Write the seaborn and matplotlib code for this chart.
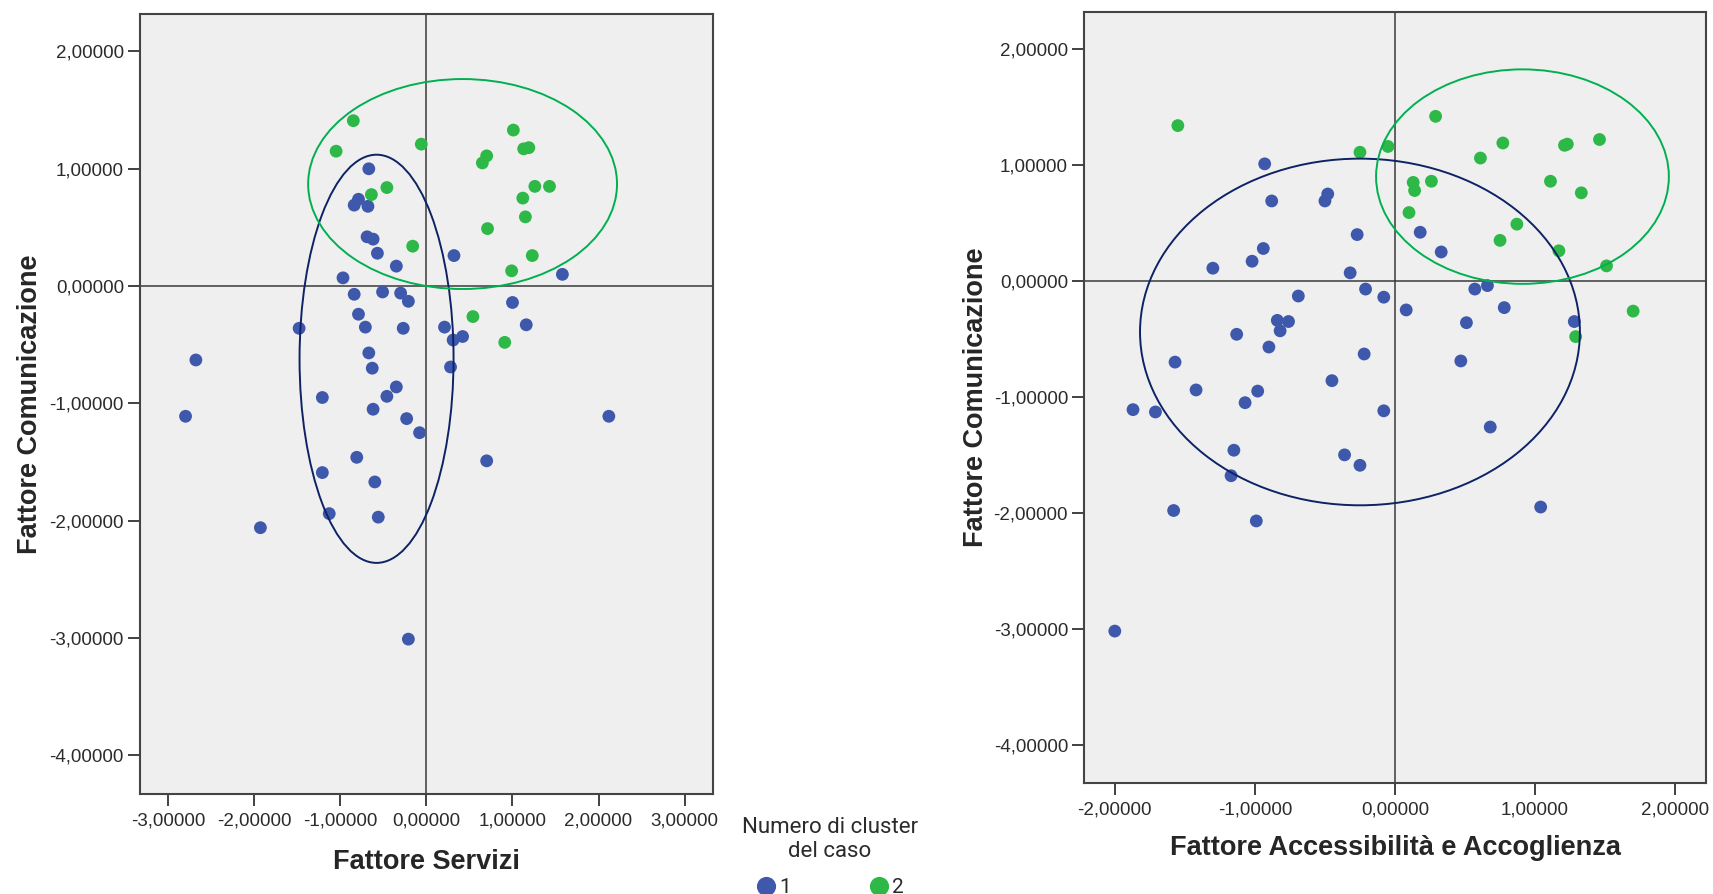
import numpy as np
import pandas as pd
import seaborn as sns
import matplotlib.pyplot as plt
import matplotlib.ticker as ticker
from matplotlib.patches import Ellipse

# cluster scatter (SPSS output) - Fattore Comunicazione vs two other factors
# left panel: Fattore Servizi
serv_x_c1 = [-0.67, -0.79, -0.84, -0.68, -0.69, -0.62, -0.57, 0.32, -0.35, -0.97, 1.58,
             -0.84, -0.51, -0.30, -0.21, 1.00, -0.79, -1.48, -0.71, -0.27, 0.21, 1.16,
             0.42, 0.31, -2.68, -0.67, -0.63, 0.28, -0.35, -1.21, -0.46, -2.80, -0.62,
             -0.23, 2.12, -0.08, -0.81, 0.70, -1.21, -0.60, -1.13, -0.56, -1.93, -0.21]
serv_y_c1 = [1.00, 0.74, 0.69, 0.68, 0.42, 0.40, 0.28, 0.26, 0.17, 0.07, 0.10,
             -0.07, -0.05, -0.06, -0.13, -0.14, -0.24, -0.36, -0.35, -0.36, -0.35, -0.33,
             -0.43, -0.46, -0.63, -0.57, -0.70, -0.69, -0.86, -0.95, -0.94, -1.11, -1.05,
             -1.13, -1.11, -1.25, -1.46, -1.49, -1.59, -1.67, -1.94, -1.97, -2.06, -3.01]
serv_x_c2 = [-0.85, 1.01, -1.05, -0.06, 1.13, 1.19, 0.70, 0.65, -0.46, -0.64,
             1.26, 1.43, 1.12, 1.15, 0.71, -0.16, 1.23, 0.99, 0.54, 0.91]
serv_y_c2 = [1.41, 1.33, 1.15, 1.21, 1.17, 1.18, 1.11, 1.05, 0.84, 0.78,
             0.85, 0.85, 0.75, 0.59, 0.49, 0.34, 0.26, 0.13, -0.26, -0.48]

# right panel: Fattore Accessibilita e Accoglienza
acc_x_c1 = [-0.93, -0.48, -0.50, -0.88, -0.27, 0.18, 0.33, -0.94, -1.02, -1.30, -0.32,
            -0.21, -0.08, -0.69, 0.57, 0.66, 0.08, 0.78, -0.84, -0.76, -0.82, 0.51,
            1.28, -1.13, -0.90, -0.22, 0.47, -1.57, -0.45, -1.42, -0.98, -1.87, -1.71,
            -1.07, -0.08, 0.68, -1.15, -0.36, -0.25, -1.17, -1.58, -0.99, 1.04, -2.00]
acc_y_c1 = [1.01, 0.75, 0.69, 0.69, 0.40, 0.42, 0.25, 0.28, 0.17, 0.11, 0.07,
            -0.07, -0.14, -0.13, -0.07, -0.04, -0.25, -0.23, -0.34, -0.35, -0.43, -0.36,
            -0.35, -0.46, -0.57, -0.63, -0.69, -0.70, -0.86, -0.94, -0.95, -1.11, -1.13,
            -1.05, -1.12, -1.26, -1.46, -1.50, -1.59, -1.68, -1.98, -2.07, -1.95, -3.02]
acc_x_c2 = [-1.55, 0.29, -0.25, -0.05, 0.77, 1.21, 1.23, 1.46, 0.61, 0.13,
            0.14, 0.26, 1.11, 1.33, 0.10, 0.87, 0.75, 1.17, 1.51, 1.70, 1.29]
acc_y_c2 = [1.34, 1.42, 1.11, 1.16, 1.19, 1.17, 1.18, 1.22, 1.06, 0.85,
            0.78, 0.86, 0.86, 0.76, 0.59, 0.49, 0.35, 0.26, 0.13, -0.26, -0.48]

# hand-drawn cluster ellipses: (cx, cy, width, height)
ell_serv_c1 = (-0.58, -0.62, 1.79, 3.48)
ell_serv_c2 = (0.42, 0.87, 3.59, 1.79)
ell_acc_c1 = (-0.25, -0.44, 3.14, 2.99)
ell_acc_c2 = (0.91, 0.90, 2.09, 1.85)

pal = {"1": "#3e58ac", "2": "#2eb848"}


def make_df(x1, y1, x2, y2):
    return pd.DataFrame({
        "x": x1 + x2,
        "y": y1 + y2,
        "cluster": ["1"] * len(x1) + ["2"] * len(x2),
    })


df_serv = make_df(serv_x_c1, serv_y_c1, serv_x_c2, serv_y_c2)
df_acc = make_df(acc_x_c1, acc_y_c1, acc_x_c2, acc_y_c2)

sns.set_style("ticks")
plt.rcParams["font.family"] = ["Liberation Sans", "DejaVu Sans"]

fig = plt.figure(figsize=(17.13, 8.94), dpi=100)
ax1 = fig.add_axes([0.0817, 0.1119, 0.3345, 0.8725])
ax2 = fig.add_axes([0.6328, 0.1242, 0.3631, 0.8624])

fmt = ticker.FuncFormatter(lambda v, p: f"{v:.5f}".replace(".", ","))


def draw(ax, df, ell1, ell2, xlim, xticks, xlabel, legend, xpad, ypad):
    ax.set_facecolor("#efefef")
    ax.axhline(0, color="#3a3a3a", lw=1.1, zorder=1)
    ax.axvline(0, color="#3a3a3a", lw=1.1, zorder=1)
    sns.scatterplot(data=df, x="x", y="y", hue="cluster", palette=pal,
                    hue_order=["1", "2"], s=85, linewidth=0, ax=ax,
                    legend=legend, zorder=3)
    for (cx, cy, w, h), col in [(ell1, "#0d2366"), (ell2, "#00b050")]:
        ax.add_patch(Ellipse((cx, cy), w, h, fill=False, edgecolor=col,
                             lw=1.4, zorder=4))
    ax.set_xlim(*xlim)
    ax.set_ylim(-4.33, 2.32)
    ax.set_xticks(xticks)
    ax.set_yticks([-4, -3, -2, -1, 0, 1, 2])
    ax.xaxis.set_major_formatter(fmt)
    ax.yaxis.set_major_formatter(fmt)
    ax.tick_params(axis="both", labelsize=13.5, length=8.5, width=1.3,
                   color="#333333", labelcolor="#2b2b2b", pad=3)
    ax.tick_params(axis="x", pad=5)
    for sp in ax.spines.values():
        sp.set_visible(True)
        sp.set_color("#444444")
        sp.set_linewidth(1.5)
    ax.set_xlabel(xlabel, fontsize=19.5, fontweight="bold", labelpad=xpad)
    ax.set_ylabel("Fattore Comunicazione", fontsize=19.5, fontweight="bold",
                  labelpad=ypad)


draw(ax1, df_serv, ell_serv_c1, ell_serv_c2, (-3.33, 3.33),
     [-3, -2, -1, 0, 1, 2, 3], "Fattore Servizi", True, 14, 5)
draw(ax2, df_acc, ell_acc_c1, ell_acc_c2, (-2.22, 2.22),
     [-2, -1, 0, 1, 2], "Fattore Accessibilità e Accoglienza", False, 12, 3.3)

handles, labels = ax1.get_legend_handles_labels()
ax1.get_legend().remove()
leg = fig.legend(handles, labels, title="Numero di cluster\ndel caso",
                 loc="upper center", bbox_to_anchor=(0.4845, 0.086), ncol=2,
                 frameon=False, fontsize=15, title_fontsize=16,
                 handlelength=1.0, handletextpad=0.15, columnspacing=3.7,
                 borderpad=0, borderaxespad=0, markerscale=1.5,
                 labelspacing=0.75, alignment="center")
leg.get_title().set_family(["Roboto", "DejaVu Sans"])
leg.get_title().set_color("#2b2b2b")
leg.get_title().set_multialignment("center")
for t in leg.get_texts():
    t.set_family(["Roboto", "DejaVu Sans"])
    t.set_color("#2b2b2b")

fig.savefig("out.png", dpi=100)
